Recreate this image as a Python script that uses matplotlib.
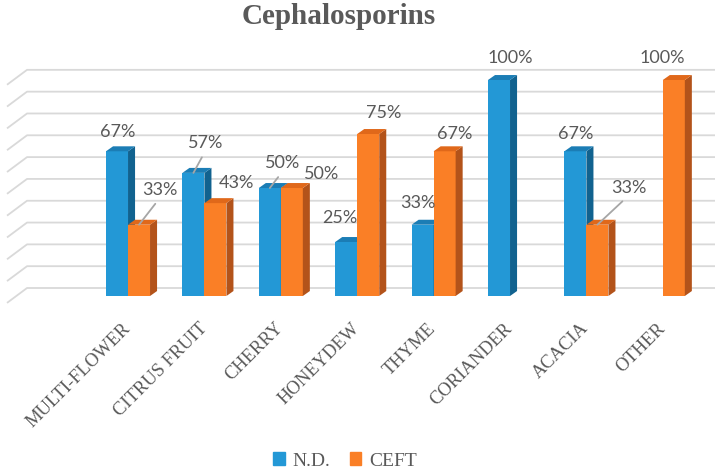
import numpy as np
import matplotlib
matplotlib.use('Agg')
import matplotlib.pyplot as plt
from matplotlib.patches import Polygon

# data
categories = ['MULTI-FLOWER', 'CITRUS FRUIT', 'CHERRY', 'HONEYDEW',
              'THYME', 'CORIANDER', 'ACACIA', 'OTHER']
nd = [67, 57, 50, 25, 33, 100, 67, 0]
ceft = [33, 43, 50, 75, 67, 0, 33, 100]
series_names = ['N.D.', 'CEFT']

# label offsets in pixels (right, up) from the top of each bar, as placed in the original
nd_off = [(1, 19), (12, 30), (13, 25), (-6, 24), (-5, 22), (11, 22), (0, 17), (0, 0)]
ceft_off = [(21, 35), (21, 20), (30, 14), (15, 21), (10, 17), (0, 0), (31, 37), (-12, 22)]
nd_leader = [False, True, True, False, False, False, False, False]
ceft_leader = [True, False, False, False, False, False, True, False]

blue = ('#2398D6', '#1B7DB5', '#11628F')     # front, top, side
orange = ('#FA7F26', '#E0681A', '#B3531A')
grey_txt = '#595959'
grid_c = '#D9D9D9'

W, H = 720, 474
fig = plt.figure(figsize=(7.2, 4.74), dpi=100)
ax = fig.add_axes([8 / W, (H - 296) / H, (715 - 8) / W, (296 - 60) / H])
ax.set_xlim(-1.571, 7.683)
ax.set_ylim(0, 109.26)
ax.axis('off')

x = np.arange(len(categories))
bw = 0.288          # bar width
ddx, ddy = 0.092, 2.3   # depth of the 3d look

# back wall gridlines with the little floor diagonal on the left
for g in range(0, 101, 10):
    yb = 3.7 + 1.01 * g
    ax.plot([-1.584, -1.322, 7.683], [yb - 6.9, yb, yb], color=grid_c, lw=1.3,
            zorder=0, clip_on=False, solid_capstyle='butt')


def bar3d(x0, v, cols):
    if v <= 0:
        return
    ax.bar(x0, v, bw, align='edge', color=cols[0], zorder=2, linewidth=0)
    side = [(x0 + bw, 0), (x0 + bw + ddx, ddy), (x0 + bw + ddx, v + ddy), (x0 + bw, v)]
    top = [(x0, v), (x0 + ddx, v + ddy), (x0 + bw + ddx, v + ddy), (x0 + bw, v)]
    ax.add_patch(Polygon(side, closed=True, color=cols[2], lw=0, zorder=2))
    ax.add_patch(Polygon(top, closed=True, color=cols[1], lw=0, zorder=2))


def label(xc, v, off, leader):
    if v <= 0:
        return
    kw = dict(textcoords='offset pixels', ha='center', va='center',
              fontsize=13, color=grey_txt, family='Lato', zorder=5,
              annotation_clip=False)
    if leader:
        kw['arrowprops'] = dict(arrowstyle='-', color='#A6A6A6', lw=1.3,
                                relpos=(0.5, 0), shrinkA=3, shrinkB=0)
    ax.annotate(f'{v}%', xy=(xc, v), xytext=off, **kw)


for i in range(len(categories)):
    bar3d(x[i] - bw, nd[i], blue)
    bar3d(x[i], ceft[i], orange)

for i in range(len(categories)):
    label(x[i] - bw / 2, nd[i], nd_off[i], nd_leader[i])
    label(x[i] + bw / 2, ceft[i], ceft_off[i], ceft_leader[i])

# category labels on the floor
for i, c in enumerate(categories):
    ax.text(x[i] - 0.08, -11.0, c, rotation=45, rotation_mode='anchor',
            ha='right', va='top', fontsize=13.3, color=grey_txt,
            family='Liberation Serif', clip_on=False)

fig.text(339 / W, 1 - 17 / H, 'Cephalosporins', ha='center', va='center',
         fontsize=21, fontweight='bold', color=grey_txt, family='Liberation Serif')

handles = [plt.Rectangle((0, 0), 1, 1, color=blue[0]),
           plt.Rectangle((0, 0), 1, 1, color=orange[0])]
fig.legend(handles, series_names, loc='center', bbox_to_anchor=(345 / W, 1 - 461 / H),
           ncol=2, frameon=False, handlelength=0.6, handleheight=0.6,
           handletextpad=0.4, columnspacing=1.0,
           prop={'family': 'Liberation Serif', 'size': 14}, labelcolor=grey_txt)

fig.savefig('out.png', dpi=100)
